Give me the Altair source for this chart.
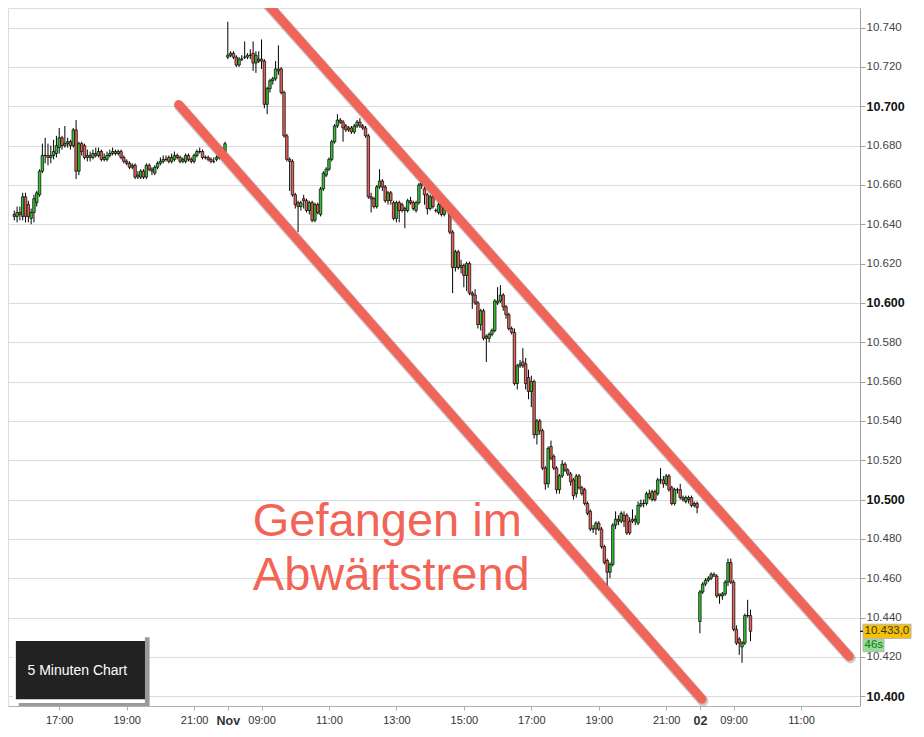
import altair as alt
import pandas as pd

# ---------------- data (prices in thousandths above 10.000) ----------------
# Day 1 (Oct 31) 15:40 - 21:55, 5-minute candles
d1_o = [645,644,646,644,654,650,643,646,651,655,667,675,675,674,675,676,679,684,680,681,
        682,680,688,667,681,680,674,675,674,676,675,677,673,673,675,676,677,676,677,674,
        672,671,669,670,664,664,667,664,670,668,666,669,671,672,673,674,672,673,675,674,
        672,672,675,673,672,675,677,677,674,674,673,672,673,674,675,677]
d1_h = [647,649,649,656,656,652,648,655,657,668,681,684,681,680,683,685,689,685,690,684,
        683,689,693,682,682,681,678,677,678,679,679,678,676,677,678,679,678,678,678,675,
        673,672,671,671,667,668,668,671,671,669,670,672,674,675,675,675,676,677,676,675,
        674,676,676,674,676,678,679,678,675,675,674,674,675,676,679,682]
d1_l = [642,641,642,642,641,641,640,641,649,654,666,671,670,671,673,674,676,678,679,679,
        678,679,663,665,675,673,672,672,673,674,674,672,672,672,674,675,675,675,673,671,
        670,668,668,663,663,663,663,663,667,665,665,668,670,671,672,671,671,672,673,671,
        671,671,672,671,671,674,676,673,673,672,671,671,672,673,674,676]
d1_c = [644,646,645,654,644,644,646,653,656,667,675,675,674,675,677,680,684,680,681,682,
        680,688,667,681,677,674,675,674,676,675,677,673,674,675,676,677,676,677,674,672,
        671,669,670,664,665,667,664,670,668,667,669,671,672,673,673,672,674,675,674,672,
        673,675,673,672,675,677,677,674,674,673,672,672,674,675,677,681]

# Day 2 (Nov 1) 08:00 - 21:55
d2_o = [725,726,727,725,721,724,725,725,726,727,722,724,724,723,701,709,713,714,719,719,
        707,685,673,672,655,651,649,653,652,647,651,642,650,645,658,665,668,673,682,690,
        693,692,690,688,689,687,690,692,690,689,685,654,653,649,659,662,659,652,656,651,
        643,651,650,647,647,652,651,647,651,661,658,655,648,654,647,646,650,645,650,648,
        636,618,626,618,619,614,620,605,604,600,589,596,583,582,584,586,600,601,604,598,
        594,587,585,559,568,570,569,562,555,560,533,540,535,516,508,527,522,516,505,512,
        518,515,513,510,503,512,506,505,498,494,485,485,488,485,476,469,463,467,487,490,
        489,492,492,489,490,489,488,497,498,498,503,500,504,503,510,510,508,512,506,498,
        505,505,501,499,500,501,497,498]
d2_h = [743,728,728,726,725,726,733,727,729,733,728,728,734,724,710,714,715,723,731,720,
        708,686,674,673,656,652,652,655,653,652,652,651,651,659,667,669,674,683,691,696,
        694,693,691,690,690,691,693,694,691,690,686,656,654,660,668,663,660,657,657,652,
        652,652,651,649,653,654,652,652,661,662,659,656,655,655,648,651,651,651,651,649,
        637,627,627,622,620,621,621,606,607,601,597,597,584,585,587,602,608,609,605,599,
        595,588,587,569,571,577,572,566,563,561,541,541,536,517,527,530,523,517,513,520,
        519,516,514,511,513,513,507,506,499,495,487,489,489,486,477,470,468,488,494,492,
        494,494,493,491,495,492,499,500,500,504,505,505,505,511,516,512,513,513,507,506,
        506,508,502,502,502,502,499,499]
d2_l = [724,725,724,720,720,723,724,724,724,718,717,722,719,699,696,707,711,713,716,706,
        684,672,657,654,648,636,647,648,646,645,641,641,645,644,657,664,667,672,681,689,
        691,682,687,687,686,686,689,689,688,684,653,646,648,648,658,657,651,650,650,642,
        641,641,646,638,646,650,647,646,650,658,650,645,647,648,646,645,644,644,647,635,
        605,616,617,615,608,606,604,597,599,587,586,581,570,580,583,585,599,600,596,592,
        586,584,558,556,567,567,556,551,547,531,528,533,515,505,506,520,515,503,503,511,
        514,512,507,500,501,505,502,497,492,484,483,482,484,475,467,455,460,466,485,487,
        488,486,482,482,488,487,487,496,496,497,500,499,499,502,508,506,507,504,497,497,
        503,500,499,498,498,496,496,493]
d2_c = [726,727,725,721,724,724,725,726,726,722,726,723,723,701,709,713,714,719,718,707,
        685,673,672,655,650,649,651,652,647,651,642,650,646,658,666,668,673,682,690,693,
        692,689,688,689,687,690,692,690,689,685,654,653,649,659,662,659,652,656,652,643,
        651,647,647,648,652,651,648,651,660,660,655,648,654,649,647,650,645,650,648,636,
        618,626,618,619,614,620,605,604,600,589,596,582,582,584,586,601,601,604,598,594,
        587,585,559,568,569,568,559,555,560,533,540,535,516,508,526,521,516,505,512,518,
        515,513,509,502,512,506,503,498,493,485,485,488,485,476,468,463,467,487,490,489,
        493,489,483,483,489,490,497,498,498,503,501,504,500,510,510,508,512,505,498,505,
        505,501,500,501,501,497,498,496]

# Day 3 (Nov 2) 08:00 - 09:30
d3_o = [438,453,457,459,460,462,461,451,451,452,458,468,458,434,429,425,427,441,441]
d3_h = [454,458,460,461,463,463,462,452,453,459,470,470,459,436,430,428,442,449,444]
d3_l = [432,452,456,458,459,461,450,447,449,451,456,457,433,426,421,417,426,440,428]
d3_c = [453,457,459,460,462,461,451,452,452,458,468,458,434,427,427,427,441,441,433]

# session starts on the compressed trading-time axis (hours from 17:00 day 1)
session_start = [-4 / 3, 5.0, 19.0]
bar_step = 1 / 12  # 5 minutes

# x axis ticks
tick_pos = [0, 2, 4, 5, 6, 8, 10, 12, 14, 16, 18, 19, 20, 22]
tick_lbl = ["17:00", "19:00", "21:00", "Nov", "09:00", "11:00", "13:00", "15:00",
            "17:00", "19:00", "21:00", "02", "09:00", "11:00"]

# trend channel (time position, price)
upper_h = [5.77, 23.43]
upper_p = [10.7598, 10.4202]
lower_h = [3.54, 19.06]
lower_p = [10.7009, 10.3984]

last_price = 10.433

# ---------------- build tables ----------------
rows = []
for start, (O, H, L, C) in zip(session_start, [(d1_o, d1_h, d1_l, d1_c),
                                               (d2_o, d2_h, d2_l, d2_c),
                                               (d3_o, d3_h, d3_l, d3_c)]):
    for k in range(len(O)):
        o, h, l, c = (10 + v / 1000 for v in (O[k], H[k], L[k], C[k]))
        rows.append({"t": start + k * bar_step, "o": o, "hi": h, "lo": l, "c": c,
                     "dir": "up" if c >= o else "down"})
df = pd.DataFrame(rows)

trend = pd.DataFrame({
    "line": ["upper"] * 2 + ["lower"] * 2,
    "t": upper_h + lower_h,
    "p": upper_p + lower_p,
})

W, H = 852, 698
XDOM = [-1.371, 23.6]
YDOM = [10.395, 10.750]

label_expr = ""
for v, s in zip(tick_pos, tick_lbl):
    label_expr += f"datum.value == {v} ? '{s}' : "
label_expr += "''"

x_scale = alt.Scale(domain=XDOM, nice=False, zero=False)
y_scale = alt.Scale(domain=YDOM, nice=False, zero=False)

y_vals = [round(10.40 + 0.01 * k, 2) for k in range(35)]
major = "round(datum.value*1000) % 20 == 0"
bold = "round(datum.value*1000) % 100 == 0"

x_axis = alt.Axis(
    values=tick_pos, labelExpr=label_expr, title=None, grid=False,
    domainColor="#b0b0b0", tickColor="#b0b0b0", tickSize=4,
    labelFont="Liberation Sans", labelColor="#333333", labelPadding=4,
    labelFontSize={"condition": {"test": "datum.value == 5 || datum.value == 19", "value": 12.5}, "value": 11},
    labelFontWeight={"condition": {"test": "datum.value == 5 || datum.value == 19", "value": "bold"}, "value": "normal"},
    labelOverlap=False,
)
y_axis = alt.Axis(
    orient="right", values=y_vals, title=None,
    labelExpr=f"{major} ? format(datum.value, '.3f') : ''",
    labelOverlap=False, labelFont="Liberation Sans", labelPadding=1,
    labelColor={"condition": {"test": bold, "value": "#111111"}, "value": "#444444"},
    labelFontSize={"condition": {"test": bold, "value": 12.5}, "value": 11.5},
    labelFontWeight={"condition": {"test": bold, "value": "bold"}, "value": "normal"},
    tickSize={"condition": {"test": major, "value": 5}, "value": 2},
    tickColor="#a0a0a0", domainColor="#a0a0a0",
    grid=True, gridColor="#dcdcdc", gridWidth=1.2,
    gridOpacity={"condition": {"test": major, "value": 1}, "value": 0},
)

base = alt.Chart(df)
wicks = base.mark_rule(color="black", strokeWidth=1).encode(
    x=alt.X("t:Q", scale=x_scale, axis=x_axis),
    y=alt.Y("lo:Q", scale=y_scale, axis=y_axis),
    y2="hi:Q",
)
bodies = base.mark_bar(size=2.5, stroke="black", strokeWidth=0.7, orient="vertical").encode(
    x=alt.X("t:Q", scale=x_scale),
    y=alt.Y("o:Q", scale=y_scale),
    y2="c:Q",
    color=alt.Color("dir:N", scale=alt.Scale(domain=["up", "down"], range=["#35c135", "#e4605a"]), legend=None),
)

shadow = alt.Chart(trend).mark_line(strokeWidth=11, strokeCap="round", color="#444444",
                                     opacity=0.28, clip=True, xOffset=1, yOffset=1.5).encode(
    x=alt.X("t:Q", scale=x_scale), y=alt.Y("p:Q", scale=y_scale), detail="line:N")
lines = alt.Chart(trend).mark_line(strokeWidth=9, strokeCap="round", color="#f0645a", clip=True).encode(
    x=alt.X("t:Q", scale=x_scale), y=alt.Y("p:Q", scale=y_scale), detail="line:N")

txt = pd.DataFrame({"t": [5.74, 5.74], "p": [10.4816, 10.4539], "s": ["Gefangen im", "Abwärtstrend"]})
title_text = alt.Chart(txt).mark_text(font="Liberation Sans", fontSize=47, color="#f26456",
                                      align="left", baseline="alphabetic").encode(
    x=alt.X("t:Q", scale=x_scale), y=alt.Y("p:Q", scale=y_scale), text="s:N")

box = pd.DataFrame({"t1": [-1.2, -1.371, -1.286], "t2": [2.68, 2.54, 2.543],
                    "p1": [10.4300, 10.4315, 10.4281], "p2": [10.3950, 10.3965, 10.3984],
                    "k": ["a", "b", "c"]})
box_layer = alt.Chart(box).mark_rect().encode(
    x=alt.X("t1:Q", scale=x_scale), x2="t2:Q",
    y=alt.Y("p1:Q", scale=y_scale), y2="p2:Q",
    color=alt.Color("k:N", scale=alt.Scale(domain=["a", "b", "c"], range=["#9a9a9a", "#ffffff", "#222222"]), legend=None),
)
box_text = alt.Chart(pd.DataFrame({"t": [-0.94], "p": [10.4128], "s": ["5 Minuten Chart"]})).mark_text(
    font="Liberation Sans", fontSize=14, color="white", align="left", baseline="middle").encode(
    x=alt.X("t:Q", scale=x_scale), y=alt.Y("p:Q", scale=y_scale), text="s:N")

tag = pd.DataFrame({"p1": [last_price + 0.0036, last_price - 0.0040],
                    "p2": [last_price - 0.0036, last_price - 0.0104],
                    "k": ["price", "timer"], "s": ["10.433,0", "46s"]})
tag_rect2 = alt.Chart(tag[tag.k == "timer"]).mark_rect(stroke="#b5b5b5", strokeWidth=1, color="#8fe08f").encode(
    x=alt.value(W + 3), x2=alt.value(W + 24),
    y=alt.Y("p1:Q", scale=y_scale), y2="p2:Q")
tag_rect1 = alt.Chart(tag[tag.k == "price"]).mark_rect(stroke="#b5b5b5", strokeWidth=1, color="#f6c200").encode(
    x=alt.value(W + 3), x2=alt.value(W + 51),
    y=alt.Y("p1:Q", scale=y_scale), y2="p2:Q")
tag_text = alt.Chart(tag).mark_text(font="Liberation Sans", fontSize=11.5, align="left", baseline="middle").encode(
    x=alt.value(W + 4.5),
    y=alt.Y("mid:Q", scale=y_scale),
    text="s:N",
    color=alt.Color("k:N", scale=alt.Scale(domain=["price", "timer"], range=["#333333", "#2a6a2a"]), legend=None),
).transform_calculate(mid="(datum.p1 + datum.p2) / 2")
tag_tick = alt.Chart(pd.DataFrame({"p": [last_price]})).mark_rule(color="black", strokeWidth=1.2).encode(
    x=alt.value(W), x2=alt.value(W + 3), y=alt.Y("p:Q", scale=y_scale))

chart = alt.layer(
    wicks, bodies, shadow, lines, title_text, box_layer, box_text,
    tag_rect1, tag_rect2, tag_text, tag_tick,
).resolve_scale(color="independent").properties(
    width=W, height=H, padding={"left": 0, "top": 0, "right": 0, "bottom": 0}
).configure_view(stroke=None).configure(background="white")

chart.save("out.html", embed_options={"renderer": "svg", "actions": False})
